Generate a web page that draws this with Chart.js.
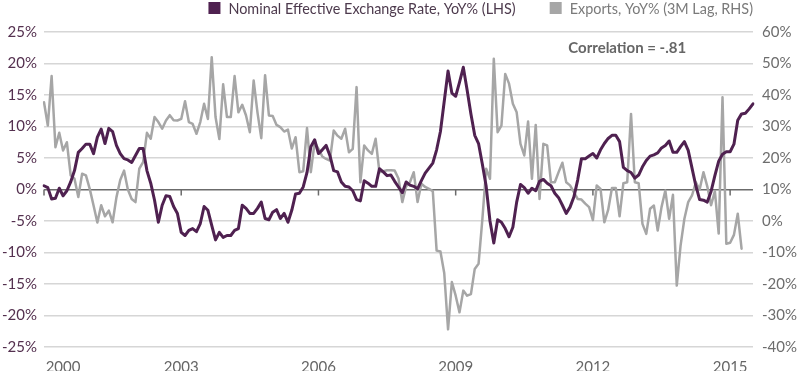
<!DOCTYPE html>
<html lang="en">
<head>
  <meta charset="UTF-8">
  <title>Exchange rate vs exports</title>
  <script src="https://cdn.jsdelivr.net/npm/chart.js"></script>
  <style>
    body { margin: 0; background: #fff; }
    #box { width: 800px; height: 371px; }
  </style>
</head>
<body>
  <div id="box"><canvas id="chart"></canvas></div>

<script>
  // Monthly categories, Jan 2000 .. Jul 2015
  var months = [];
  for (var y = 2000; y <= 2015; y++) {
    for (var m = 1; m <= 12; m++) {
      if (y == 2015 && m > 7) break;
      months.push(y + '-' + (m < 10 ? '0' + m : m));
    }
  }

  // Nominal effective exchange rate, YoY % (left axis)
  var neer = [
    0.6, 0.3, -1.5, -1.4, 0.2, -1.0, -0.2, 1.2, 3.0, 5.9, 6.5, 7.2,
    7.2, 5.7, 8.3, 9.6, 7.3, 9.7, 9.2, 7.0, 5.7, 4.9, 4.7, 4.3,
    5.4, 6.5, 6.5, 3.0, 1.0, -1.7, -5.2, -2.5, -1.0, -1.1, -2.7, -3.8,
    -6.8, -7.3, -6.5, -6.2, -6.7, -5.4, -2.7, -3.3, -5.7, -8.0, -6.8, -7.6,
    -7.3, -7.3, -6.5, -6.2, -2.5, -3.0, -3.8, -3.8, -3.0, -2.0, -4.6, -4.8,
    -3.6, -3.2, -4.6, -3.8, -5.2, -3.3, -0.7, -0.6, 0.4, 2.7, 6.8, 7.9,
    5.7, 6.3, 7.0, 5.4, 3.0, 2.8, 1.2, 0.5, 0.4, -0.2, -1.6, -1.8,
    1.4, 1.0, 0.5, 0.5, 3.3, 2.8, 2.2, 2.3, 1.3, 0.4, -0.5, 1.2,
    0.7, 0.5, 0.1, 1.4, 2.6, 3.4, 4.2, 6.3, 9.2, 14.0, 18.8, 15.3,
    14.8, 17.0, 19.4, 15.8, 12.0, 8.6, 7.3, 4.0, 0.5, -5.0, -8.5, -4.8,
    -5.2, -6.2, -7.5, -6.0, -2.0, 0.8, 0.3, -0.6, 0.2, -0.2, 1.3, 1.6,
    1.0, 0.6, -0.6, -1.3, -2.5, -3.8, -2.8, -1.2, 1.5, 4.9, 4.9, 5.3,
    5.7, 5.0, 6.3, 7.3, 8.1, 8.6, 8.6, 7.6, 3.5, 3.0, 2.7, 1.8,
    2.3, 3.6, 4.6, 5.3, 5.5, 5.8, 6.6, 7.0, 7.7, 5.9, 5.9, 6.8,
    7.6, 6.2, 3.4, 0.6, -1.6, -1.7, -2.0, -0.3, 2.2, 4.5, 5.6, 6.0,
    6.0, 7.2, 11.0, 12.0, 12.1, 12.8, 13.6
  ];

  // Exports, YoY % with 3 month lag (right axis)
  var exportsYoY = [
    37.7, 30.3, 46.0, 23.4, 28.0, 22.4, 25.0, 14.5, 13.4, 7.6, 15.0, 14.5,
    10.2, 4.9, -0.5, 5.0, 1.5, 3.3, -0.4, 7.5, 13.0, 16.0, 10.0, 7.0,
    6.0, 16.6, 18.7, 28.0, 26.1, 33.0, 31.4, 29.3, 31.9, 33.6, 32.0, 31.9,
    32.4, 38.0, 31.4, 30.8, 27.7, 31.4, 37.2, 32.4, 52.0, 33.0, 26.0, 43.4,
    33.0, 33.0, 46.0, 34.5, 36.9, 33.5, 28.2, 44.6, 34.5, 26.3, 46.3, 33.5,
    33.3, 30.5, 29.8, 28.4, 29.0, 23.0, 26.6, 15.5, 15.8, 29.5, 15.5, 25.0,
    22.9, 20.5, 19.7, 19.2, 28.7, 27.1, 26.1, 29.3, 21.8, 22.9, 42.5, 12.3,
    24.0, 22.4, 21.3, 26.1, 15.5, 15.8, 16.1, 16.1, 16.0, 13.5, 6.0, 11.0,
    12.3, 15.5, 6.0, 11.8, 10.8, 10.2, 9.5, -9.4, -9.7, -16.5, -34.4, -19.4,
    -23.7, -29.0, -22.1, -23.7, -23.2, -15.2, -13.6, 0.5, 16.6, 13.4, 51.5, 28.2,
    30.3, 46.7, 43.6, 37.2, 34.5, 24.5, 20.8, 31.6, 13.4, 30.5, 7.0, 24.5,
    24.0, 12.3, 12.3, 15.5, 18.5, 12.3, 11.3, 9.2, 7.0, 6.8, 5.5, 4.4,
    0.3, 11.3, 10.2, -0.4, 3.5, 10.5, 10.5, 1.5, 12.0, 12.3, 34.0, 12.3,
    12.0, -0.9, -4.1, 3.9, 4.9, -3.0, 4.4, 9.7, 0.7, 8.3, -20.5, -7.8,
    0.7, 6.0, 8.1, 12.3, 10.0, 15.5, 11.0, 5.0, 9.5, -4.0, 39.3, -7.2,
    -6.9, -4.4, 2.3, -8.8, null, null, null
  ];

  // year labels along the bottom, and the small marks hanging from the zero line
  var yearLabelMonths = ['2000-06', '2003-01', '2006-01', '2009-01', '2012-01', '2015-01'];
  var yearLabels = ['2000', '2003', '2006', '2009', '2012', '2015'];
  var yearMarkMonths = ['2000-01', '2003-01', '2006-01', '2009-01', '2012-01', '2015-01'];

  var purple = '#4f2150';
  var grey = '#a6a6a6';
  var fonte = 'Lato, "Open Sans", sans-serif';

  // draws the legend, the zero line marks and the correlation note
  var extras = {
    id: 'extras',
    beforeDatasetsDraw: function (chart) {
      var ctx = chart.ctx;
      var x = chart.scales.x, yl = chart.scales.y;
      var y0 = yl.getPixelForValue(0);
      ctx.save();
      ctx.strokeStyle = '#6b6b6b';
      ctx.lineWidth = 1.5;
      for (var i = 0; i < yearMarkMonths.length; i++) {
        var px = x.getPixelForValue(months.indexOf(yearMarkMonths[i]));
        ctx.beginPath();
        ctx.moveTo(px, y0);
        ctx.lineTo(px, y0 + 6);
        ctx.stroke();
      }
      ctx.restore();
    },
    afterDraw: function (chart) {
      var ctx = chart.ctx;
      var area = chart.chartArea;
      ctx.save();

      // legend
      ctx.font = '14.4px ' + fonte;
      ctx.textBaseline = 'middle';
      var itens = chart.data.datasets;
      var larguras = itens.map(function (d) { return 12 + 8 + ctx.measureText(d.label).width; });
      var total = larguras[0] + 34 + larguras[1];
      var lx = area.right - total;
      for (var i = 0; i < itens.length; i++) {
        ctx.fillStyle = itens[i].borderColor;
        ctx.fillRect(lx, 2, 12, 12);
        ctx.fillStyle = itens[i].textColor;
        ctx.fillText(itens[i].label, lx + 20, 9);
        lx += larguras[i] + 34;
      }

      // correlation note
      ctx.font = 'bold 15px ' + fonte;
      ctx.fillStyle = '#666666';
      ctx.textAlign = 'center';
      ctx.fillText('Correlation = -.81',
        chart.scales.x.getPixelForValue(months.indexOf('2012-10')),
        chart.scales.y.getPixelForValue(22.5));
      ctx.restore();
    }
  };

  var ctx = document.getElementById('chart').getContext('2d');
  var myChart = new Chart(ctx, {
    type: 'line',
    data: {
      labels: months,
      datasets: [{
        label: 'Nominal Effective Exchange Rate, YoY% (LHS)',
        data: neer,
        borderColor: purple,
        textColor: '#4d3a4d',
        borderWidth: 3,
        yAxisID: 'y'
      }, {
        label: 'Exports, YoY% (3M Lag, RHS)',
        data: exportsYoY,
        borderColor: grey,
        textColor: '#7a7a7a',
        borderWidth: 2.5,
        yAxisID: 'y1'
      }]
    },
    options: {
      responsive: true,
      maintainAspectRatio: false,
      animation: false,
      layout: { padding: { top: 32, left: 0, right: 0, bottom: 0 } },
      elements: {
        point: { radius: 0 },
        line: { tension: 0, borderJoinStyle: 'round', borderCapStyle: 'round' }
      },
      plugins: {
        legend: { display: false },
        tooltip: { enabled: false }
      },
      scales: {
        x: {
          grid: { display: false, drawTicks: false },
          border: { display: false },
          afterFit: function (s) { s.height = 24; },
          ticks: {
            autoSkip: false,
            maxRotation: 0,
            padding: 11,
            color: '#666666',
            font: { family: fonte, size: 15 },
            callback: function (v, i) {
              var k = yearLabelMonths.indexOf(months[i]);
              return k >= 0 ? yearLabels[k] : '';
            }
          }
        },
        y: {
          position: 'left',
          min: -25,
          max: 25,
          border: { display: false },
          afterFit: function (s) { s.width = 44; },
          grid: {
            drawTicks: false,
            lineWidth: 1.5,
            color: function (c) { return c.tick.value === 0 ? '#6b6b6b' : '#d6d6d6'; }
          },
          ticks: {
            stepSize: 5,
            padding: 7,
            color: '#54304f',
            font: { family: fonte, size: 15 },
            callback: function (v) { return v + '%'; }
          }
        },
        y1: {
          position: 'right',
          min: -40,
          max: 60,
          border: { display: false },
          afterFit: function (s) { s.width = 47; },
          grid: { drawOnChartArea: false, drawTicks: false },
          ticks: {
            stepSize: 10,
            padding: 9,
            color: '#6d6d6d',
            font: { family: fonte, size: 15 },
            callback: function (v) { return v + '%'; }
          }
        }
      }
    },
    plugins: [extras]
  });
</script>
</body>
</html>
